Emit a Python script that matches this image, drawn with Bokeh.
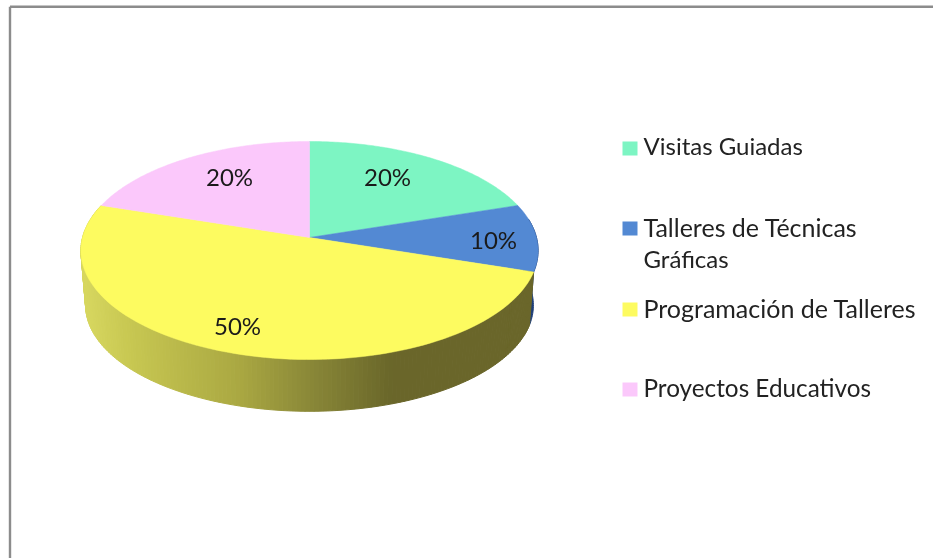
import numpy as np
from bokeh.plotting import figure
from bokeh.models import Range1d
from bokeh.core.properties import value
from bokeh.embed import file_html
from bokeh.resources import INLINE

# ---- data ----
categories = ["Visitas Guiadas", "Talleres de Técnicas Gráficas", "Programación de Talleres", "Proyectos Educativos"]
shares = [20, 10, 50, 20]
colors = ["#7DF5C3", "#5389D3", "#FDFB60", "#FBC8FB"]
side_colors = ["#3C9A75", "#1F3F78", None, "#9A7A9A"]
legend_lines = [["Visitas Guiadas"], ["Talleres de Técnicas", "Gráficas"], ["Programación de Talleres"], ["Proyectos Educativos"]]

# ---- layout / projection ----
W, H = 933, 558
CX = 309.0
TOP = dict(r=227.0, a=-79.2, b=237.0, c=0.1193)
BOT = dict(r=222.0, a=-66.4, b=291.0, c=0.13)
GRAD_X = [85, 130, 240, 310, 390, 540]
GRAD_RGB = [(216, 216, 96), (200, 200, 82), (170, 168, 66), (138, 136, 56), (106, 103, 42), (106, 102, 42)]
LABEL_POS = [(387, 176), (493, 239), (237, 325), (229, 176)]
LEGEND_SW = [(622, 141), (622, 221), (622, 302), (622, 382)]
LEGEND_TXT_Y = [[145], [226, 258], [307], [387]]
LEGEND_SIZES = [[24.0], [25.0, 24.0], [25.0], [24.3]]
FONT = "Lato"


def project(deg, plane, k=1.0):
    t = np.radians(deg)
    u, v = np.sin(t) * k, np.cos(t) * k
    d = 1 + plane["c"] * v
    return CX + plane["r"] * u / d, (plane["a"] * v + plane["b"]) / d


p = figure(width=W, height=H, output_backend="svg", toolbar_location=None,
           x_range=Range1d(0, W), y_range=Range1d(H, 0), min_border=0,
           outline_line_color=None, background_fill_color="white",
           styles={"position": "fixed", "left": "0px", "top": "0px"})
p.axis.visible = False
p.grid.visible = False

# frame
p.segment(x0=[9.5, 9.5], y0=[6.2, 6.2], x1=[W, 9.5], y1=[6.2, H], line_color="#8C8C8C", line_width=2.4)

# slice boundaries
edges = np.cumsum([0] + shares) / sum(shares) * 360.0

# side wall: blue sliver then yellow gradient, built from slice angles
a1 = edges[2]
deg = np.arange(80.0, a1 + 0.1, 1.0)
bx0, by0 = project(deg, TOP)
bx1, by1 = project(deg, BOT)
p.patch(list(bx0) + list(bx1[::-1]), list(by0) + list(by1[::-1]),
        fill_color=side_colors[1], line_color=side_colors[1], line_width=1)

a2, a3 = edges[2], edges[3]
deg = np.arange(a2, a3 + 0.01, 1.0)
qx, qy, qc = [], [], []
for d0, d1 in zip(deg[:-1], deg[1:]):
    t0, t1 = project(d0, TOP), project(d1, TOP)
    b0, b1 = project(d0, BOT), project(d1, BOT)
    qx.append([t0[0], t1[0], b1[0], b0[0]])
    qy.append([t0[1], t1[1], b1[1], b0[1]])
    mx = (b0[0] + b1[0]) / 2
    rgb = [int(np.interp(mx, GRAD_X, [c[i] for c in GRAD_RGB])) for i in range(3)]
    qc.append("#%02x%02x%02x" % tuple(rgb))
p.patches(qx, qy, fill_color=qc, line_color=qc, line_width=1)

# top face
for i, col in enumerate(colors):
    deg = np.linspace(edges[i], edges[i + 1], 100)
    x, y = project(deg, TOP)
    ax, ay = project(0.0, TOP, 0.0)
    p.patch([ax] + list(x), [ay] + list(y), fill_color=col, line_color=col, line_width=0.5)

# slice labels
for s, (lx, ly) in zip(shares, LABEL_POS):
    p.text([lx], [ly], text=[f"{s}%"], text_font=value(FONT), text_font_size="24px",
           text_color="#1A1A1A", text_align="center", text_baseline="middle")

# legend
for (sx, sy), col, lines, tys, sizes in zip(LEGEND_SW, colors, legend_lines, LEGEND_TXT_Y, LEGEND_SIZES):
    p.quad(left=[sx], right=[sx + 15], top=[sy], bottom=[sy + 14], fill_color=col, line_color=None)
    for line, ty, fs in zip(lines, tys, sizes):
        p.text([643], [ty], text=[line], text_font=value(FONT), text_font_size=f"{fs}px",
               text_color="#222222", text_align="left", text_baseline="middle")

open("out.html", "w").write(file_html(p, INLINE))
